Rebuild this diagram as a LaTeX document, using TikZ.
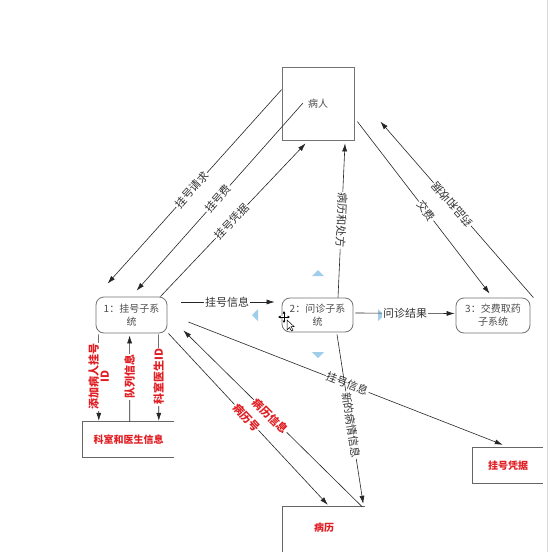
\documentclass[tikz,border=0pt]{standalone}
\usepackage{fontspec}
\setmainfont{Noto Sans CJK SC}
\usetikzlibrary{arrows.meta,calc}
\definecolor{handleblue}{RGB}{160,206,234}
\definecolor{storered}{RGB}{225,30,35}

\begin{document}
\begin{tikzpicture}[x=1pt,y=-1pt,
  boxline/.style={draw=black!55, line width=0.8pt},
  proc/.style={boxline, rounded corners=8pt, align=center, inner sep=0pt,
    text=black!70, font=\fontsize{10}{13}\selectfont},
  ent/.style={boxline, inner sep=0pt, text=black!70, font=\fontsize{10}{13}\selectfont},
  store/.style={inner sep=0pt, text=storered, font=\fontsize{10}{13}\selectfont\bfseries},
  storeline/.style={draw=black!60, line width=0.8pt},
  flow/.style={draw=black!85, line width=0.6pt, -{Latex[length=8pt,width=5pt]}},
  lbl/.style={fill=white, inner sep=1pt, text=black!80, font=\fontsize{11}{12}\selectfont},
  rlbl/.style={lbl, text=storered, font=\fontsize{11}{12}\selectfont\bfseries},
  vlbl/.style={rlbl, align=center, font=\fontsize{11}{11}\selectfont\bfseries},
  handle/.style={fill=handleblue}
]
\useasboundingbox (0,0) rectangle (550,552);
\fill[white] (0,0) rectangle (550,552);
\draw[black!15] (547,0) -- (547,552);

% external entity and processes
\node[ent, minimum width=72pt, minimum height=73pt] (pat) at (318,103.5) {病人};
\node[proc, minimum width=71pt, minimum height=36pt] (reg) at (131.5,315) {1：挂号子系\\统};
\node[proc, minimum width=71pt, minimum height=34pt] (diag) at (317.5,315) {2：问诊子系\\统};
\node[proc, minimum width=74pt, minimum height=35pt] (pay) at (493,315.5) {3：交费取药\\子系统};

% data stores, open on the right
\node[store, minimum width=91pt, minimum height=35pt] (dept) at (128.5,439.5) {科室和医生信息};
\draw[storeline] (dept.north east) -- (dept.north west) -- (dept.south west) -- (dept.south east);
\node[store, minimum width=70pt, minimum height=35pt] (cert) at (508,465.5) {挂号凭据};
\draw[storeline] (cert.north east) -- (cert.north west) -- (cert.south west) -- (cert.south east);
\node[store, minimum width=82pt, minimum height=42pt] (rec) at (324,528) {病历};
\draw[storeline] (rec.north east) -- (rec.north west) -- ($(rec.south west)+(0,4)$);

% selection handles round the process 2
\fill[handle] (312,276) -- (324,276) -- (318,270) -- cycle;
\fill[handle] (312,352) -- (324,352) -- (318,358) -- cycle;
\fill[handle] (258,309) -- (258,321) -- (252,315) -- cycle;
\fill[handle] (378,309) -- (378,321) -- (384,315) -- cycle;

% flows between patient and subsystems
\draw[flow] ($(pat.north west)+(0,23)$) -- node[lbl, pos=0.517, rotate=48] {挂号请求} ($(reg.north west)+(12,-13)$);
\draw[flow] ($(pat.center)+(-15,-0.5)$) -- node[lbl, pos=0.51, rotate=48.6] {挂号费} ($(reg.north west)+(41,-6)$);
\draw[flow] ($(reg.north east)+(-7,0)$) -- node[lbl, pos=0.49, rotate=46.5] {挂号凭据} ($(pat.south west)+(24,3)$);
\draw[flow] ($(reg.east)+(14,-13)$) -- node[lbl, pos=0.49] {挂号信息} ($(diag.west)+(-7,-13)$);
\draw[flow] ($(diag.east)+(2,-2)$) -- node[lbl, pos=0.5] {问诊结果} ($(pay.west)+(-1,-2)$);
\draw[flow] ($(diag.north)+(20.5,0)$) -- node[lbl, pos=0.5, rotate=-92.6] {病历和处方} ($(pat.south)+(27,3)$);
\draw[flow] ($(pat.north east)+(3,55)$) -- node[lbl, pos=0.52, rotate=-52.3] {交费} ($(pay.north west)+(34,-4)$);
\draw[flow] ($(pay.north east)+(3,0)$) -- node[lbl, pos=0.53, rotate=131] {药品和收据} ($(pat.north east)+(26,55)$);

% flows to the data stores
\draw[flow] ($(reg.east)+(21,7)$) -- node[lbl, pos=0.505, rotate=-21.3] {挂号信息} ($(cert.north west)+(30,-3)$);
\draw[flow] ($(diag.south)+(19.5,2)$) -- node[lbl, pos=0.535, rotate=-81.3] {新的病情信息} ($(rec.north east)+(-2,-3)$);
\draw[flow] ($(reg.south east)+(1,0)$) -- node[rlbl, pos=0.49, rotate=-47.1] {病历号} ($(rec.north west)+(45,-2)$);
\draw[flow] ($(rec.north east)+(-3,0)$) -- node[rlbl, pos=0.514, rotate=-44.7] {病历信息} ($(reg.south east)+(16,-3)$);

\draw[flow] ($(reg.south west)+(3,1)$) -- node[vlbl, pos=0.49, rotate=90] {添加病人挂号\\ID} ($(dept.north west)+(16,-1)$);
\draw[flow] ($(dept.north west)+(47,0)$) -- node[vlbl, pos=0.52, rotate=90] {队列信息} ($(reg.south west)+(34,2)$);
\draw[flow] ($(reg.south west)+(63,1)$) -- node[vlbl, pos=0.49, rotate=90] {科室医生ID} ($(dept.north west)+(76,-1)$);

% move cursor over the process 2
\begin{scope}[shift={(284,317)}]
  \draw[white, line width=2.6pt] (-5,0) -- (5,0) (0,-5) -- (0,5);
  \draw[black, line width=1pt, {Latex[length=2.5pt,width=3pt]}-{Latex[length=2.5pt,width=3pt]}] (-6,0) -- (6,0);
  \draw[black, line width=1pt, {Latex[length=2.5pt,width=3pt]}-{Latex[length=2.5pt,width=3pt]}] (0,-6) -- (0,6);
  \filldraw[fill=white, draw=black, line width=0.5pt] (3,3) -- (3,13) -- (5.5,10.5) -- (7.5,14) -- (9,13) -- (7,9.5) -- (10,9.5) -- cycle;
\end{scope}
\end{tikzpicture}
\end{document}
